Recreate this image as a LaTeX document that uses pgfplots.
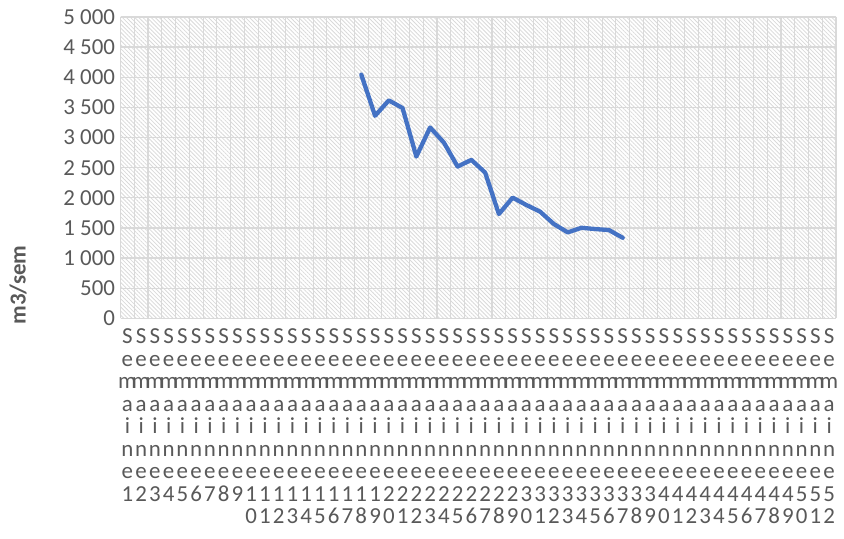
\documentclass[border=0pt]{standalone}
\usepackage{fontspec}
\setmainfont{Carlito}
\usepackage{pgfplots}
\pgfplotsset{compat=1.18}
\usetikzlibrary{patterns.meta}
\definecolor{xlblue}{HTML}{4472C4}
\definecolor{lblgray}{HTML}{595959}
\definecolor{gridgray}{HTML}{D9D9D9}
\newcommand{\W}[1]{S\\e\\m\\a\\i\\n\\e\\#1}
\begin{document}
\begin{tikzpicture}
\useasboundingbox (0,0) rectangle (844bp,539bp);
\begin{axis}[
    at={(120.5bp,220.7bp)}, anchor=south west,
    scale only axis, width=715.5bp, height=301.3bp,
    xmin=0.5, xmax=52.5, ymin=0, ymax=5000,
    axis line style={draw=none},
    axis background/.style={pattern={Lines[angle=-45,distance=2.9bp,line width=0.8bp]}, pattern color=gridgray},
    xtick={1,...,52},
    minor xtick={0.5,1.5,...,52.5},
    ytick={0,500,...,5000},
    major tick length=0pt, minor tick length=0pt,
    xmajorgrids=false, xminorgrids=true, ymajorgrids=true,
    grid style={gridgray, line width=1.3bp},
    minor grid style={gridgray, line width=1.1bp},
    tick label style={text=lblgray, font=\fontsize{23}{22.6}\selectfont},
    yticklabel style={xshift=-2bp},
    scaled y ticks=false,
    /pgf/number format/.cd, 1000 sep={\ }, assume math mode=true,
    /pgfplots/.cd,
    xticklabel style={align=center, anchor=north, yshift=-7bp},
    xticklabels={\W{1},\W{2},\W{3},\W{4},\W{5},\W{6},\W{7},\W{8},\W{9},
      \W{1\\0},\W{1\\1},\W{1\\2},\W{1\\3},\W{1\\4},\W{1\\5},\W{1\\6},\W{1\\7},\W{1\\8},\W{1\\9},
      \W{2\\0},\W{2\\1},\W{2\\2},\W{2\\3},\W{2\\4},\W{2\\5},\W{2\\6},\W{2\\7},\W{2\\8},\W{2\\9},
      \W{3\\0},\W{3\\1},\W{3\\2},\W{3\\3},\W{3\\4},\W{3\\5},\W{3\\6},\W{3\\7},\W{3\\8},\W{3\\9},
      \W{4\\0},\W{4\\1},\W{4\\2},\W{4\\3},\W{4\\4},\W{4\\5},\W{4\\6},\W{4\\7},\W{4\\8},\W{4\\9},
      \W{5\\0},\W{5\\1},\W{5\\2}},
]
\addplot[xlblue, line width=4.3bp, line join=round, line cap=round] coordinates {
  (18,4043) (19,3361) (20,3616) (21,3489) (22,2684) (23,3166) (24,2917)
  (25,2518) (26,2629) (27,2418) (28,1730) (29,2002) (30,1880) (31,1769)
  (32,1564) (33,1426) (34,1502) (35,1481) (36,1464) (37,1336)
};
\end{axis}
\node[rotate=90, text=lblgray, font=\fontsize{23}{26}\selectfont\bfseries] at (18bp,254bp) {m3/sem};
\end{tikzpicture}
\end{document}
